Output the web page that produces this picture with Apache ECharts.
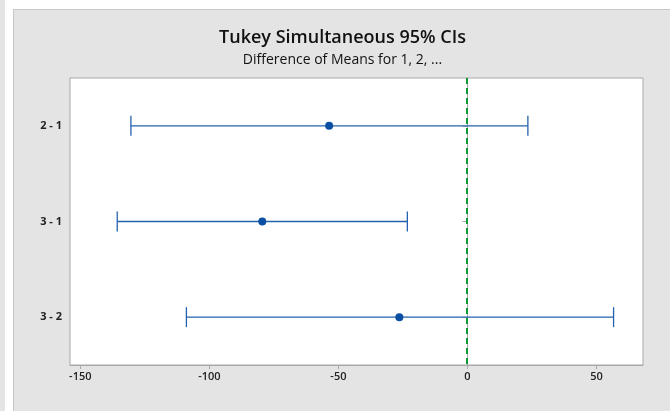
<!DOCTYPE html>
<html>
<head>
<meta charset="utf-8">
<script src="https://cdn.jsdelivr.net/npm/echarts@6/dist/echarts.min.js"></script>
<style>
  html, body { margin: 0; padding: 0; background: #ffffff; width: 670px; height: 411px; overflow: hidden; position: relative; }
  #strip { position: absolute; left: 0; top: 0; width: 5px; height: 411px; background: #e4e4e4; }
  #chart { position: absolute; left: 13px; top: 9px; width: 657px; height: 402px; background: #e4e4e4; border-left: 1px solid #c8c8c8; border-top: 1px solid #c8c8c8; }
</style>
</head>
<body>
<div id="strip"></div>
<div id="chart"></div>
<script>
const titleText = 'Tukey Simultaneous 95% CIs';
const subtitleText = 'Difference of Means for 1, 2, ...';
const categories = ['2 - 1', '3 - 1', '3 - 2'];
const centers = [-53.6, -79.5, -26.4];
const lowers = [-130.4, -135.7, -108.9];
const uppers = [23.4, -23.3, 56.6];
const xTicks = [-150, -100, -50, 0, 50];
const refValue = 0;

const chart = echarts.init(document.getElementById('chart'), null, { renderer: 'canvas' });

const errData = categories.map((c, i) => [i, lowers[i], uppers[i]]);
const ptData = categories.map((c, i) => [centers[i], i]);

const barColor = '#2462ad';

const option = {
  backgroundColor: '#e4e4e4',
  animation: false,
  title: [
    { text: titleText, left: 'center', top: 14,
      textStyle: { fontFamily: 'Open Sans', fontSize: 18, fontWeight: 600, color: '#111' } },
    { text: subtitleText, left: 'center', top: 38,
      textStyle: { fontFamily: 'Open Sans', fontSize: 14, fontWeight: 500, color: '#111' } }
  ],
  grid: {
    left: 56, top: 68, width: 573, height: 287,
    show: true, backgroundColor: '#ffffff', borderColor: '#a9a9a9', borderWidth: 1
  },
  xAxis: {
    type: 'value', min: -154, max: 68,
    axisLine: { show: true, lineStyle: { color: '#a9a9a9' } },
    axisTick: { show: true, customValues: xTicks, length: 4, lineStyle: { color: '#a9a9a9' } },
    axisLabel: { customValues: xTicks, margin: 6, fontFamily: 'Open Sans', fontSize: 11, fontWeight: 600, color: '#222' },
    splitLine: { show: false }
  },
  yAxis: {
    type: 'category', data: categories, inverse: true,
    axisLine: { show: true, lineStyle: { color: '#a9a9a9' } },
    axisTick: { show: true, alignWithLabel: true, length: 5, lineStyle: { color: '#a9a9a9' } },
    axisLabel: { margin: 8, fontFamily: 'Open Sans', fontSize: 11, fontWeight: 700, color: '#222' },
    splitLine: { show: false }
  },
  series: [
    {
      type: 'custom',
      data: [[refValue, 0]],
      encode: { x: 0, y: 1 },
      silent: true,
      renderItem: function (params, api) {
        const cs = params.coordSys;
        const x = Math.round(api.coord([api.value(0), 0])[0]);
        return {
          type: 'line',
          shape: { x1: x, y1: cs.y, x2: x, y2: cs.y + cs.height },
          style: { stroke: '#0c9a36', lineWidth: 2, lineDash: [6, 4], fill: null }
        };
      },
      z: 1
    },
    {
      type: 'custom',
      data: errData,
      encode: { x: [1, 2], y: 0 },
      renderItem: function (params, api) {
        const y = api.value(0);
        const lo = api.coord([api.value(1), y]);
        const hi = api.coord([api.value(2), y]);
        const h = 10;
        const style = { stroke: barColor, lineWidth: 1.3, fill: null };
        return {
          type: 'group',
          children: [
            { type: 'line', shape: { x1: lo[0], y1: lo[1], x2: hi[0], y2: hi[1] }, style: style },
            { type: 'line', shape: { x1: lo[0], y1: lo[1] - h, x2: lo[0], y2: lo[1] + h }, style: style },
            { type: 'line', shape: { x1: hi[0], y1: hi[1] - h, x2: hi[0], y2: hi[1] + h }, style: style }
          ]
        };
      },
      z: 2
    },
    {
      type: 'scatter',
      data: ptData,
      symbol: 'circle',
      symbolSize: 8,
      itemStyle: { color: '#0b4fa3', opacity: 1 },
      z: 4
    }
  ]
};
chart.setOption(option);
</script>
</body>
</html>
